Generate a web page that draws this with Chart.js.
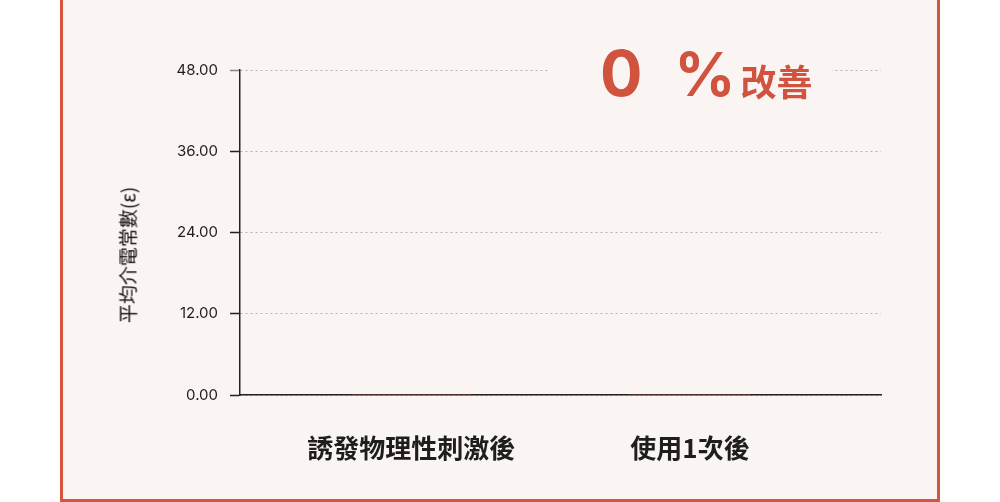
<!DOCTYPE html>
<html lang="zh-Hant">
  <head>
    <meta charset="UTF-8" />
    <title>平均介電常數</title>
    <script src="https://cdn.jsdelivr.net/npm/chart.js"></script>
    <style>
      html,
      body {
        margin: 0;
        padding: 0;
        width: 1000px;
        height: 502px;
        overflow: hidden;
        background: #ffffff;
      }
      .panel {
        position: absolute;
        left: 60px;
        top: -10px;
        width: 874px;
        height: 506px;
        border: 3px solid #d4553f;
        background: #faf4f2;
      }
      .chart-wrap {
        position: absolute;
        left: 0;
        top: 0;
        width: 1000px;
        height: 502px;
      }
      .y-title {
        position: absolute;
        left: 127px;
        top: 255px;
        transform: translate(-50%, -50%) rotate(-90deg);
        white-space: nowrap;
        font-family: "Noto Sans CJK TC", sans-serif;
        font-size: 19px;
        color: #111111;
      }
      .badge {
        position: absolute;
        left: 550px;
        top: 42px;
        width: 282px;
        height: 64px;
        padding-left: 50px;
        box-sizing: border-box;
        background: #faf4f2;
        display: flex;
        align-items: baseline;
        color: #d0533f;
        font-weight: 700;
      }
      .badge .num {
        font-family: Inter, sans-serif;
        font-size: 63px;
        line-height: 1;
      }
      .badge .pct {
        font-family: Inter, sans-serif;
        font-size: 60px;
        line-height: 1;
        margin-left: 32px;
      }
      .badge .word {
        font-family: "Noto Sans CJK TC", sans-serif;
        font-size: 36px;
        line-height: 1;
        margin-left: 5px;
      }
    </style>
  </head>
  <body>
    <div class="panel"></div>
    <div class="chart-wrap"><canvas id="chart"></canvas></div>
    <div class="y-title" id="yTitle"></div>
    <div class="badge">
      <span class="num" id="improveNum"></span>
      <span class="pct">%</span>
      <span class="word">改善</span>
    </div>

    <script>
      const categories = ["誘發物理性刺激後", "使用1次後"];
      const dielectricValues = [0, 0];
      const yTicks = [0, 12, 24, 36, 48];
      const yTitle = "平均介電常數(ε)";
      const improvement = 0;

      document.getElementById("yTitle").textContent = yTitle;
      document.getElementById("improveNum").textContent = improvement;

      const ctx = document.getElementById("chart").getContext("2d");

      new Chart(ctx, {
        type: "bar",
        data: {
          datasets: [
            {
              label: yTitle,
              data: dielectricValues.map((v, i) => ({ x: i, y: v })),
              backgroundColor: "#d0533f",
              borderWidth: 0,
              barThickness: 120,
            },
          ],
        },
        options: {
          responsive: true,
          maintainAspectRatio: false,
          animation: false,
          layout: {
            padding: { top: 70, right: 119, left: 0, bottom: 0 },
          },
          plugins: {
            legend: { display: false },
            tooltip: { enabled: false },
          },
          scales: {
            x: {
              type: "linear",
              min: -0.614,
              max: 1.685,
              offset: false,
              afterBuildTicks: (scale) => {
                scale.ticks = categories.map((_, i) => ({ value: i }));
              },
              afterFit: (scale) => {
                scale.height = 107;
              },
              ticks: {
                callback: (value) => categories[value],
                color: "#1e1e1e",
                padding: 38,
                maxRotation: 0,
                autoSkip: false,
                font: {
                  family: "'Noto Sans CJK TC', sans-serif",
                  size: 26,
                  weight: "bold",
                },
              },
              grid: { display: false, drawTicks: false, offset: false },
              border: { display: true, color: "#222222", width: 1.5 },
            },
            y: {
              min: 0,
              max: 48,
              afterBuildTicks: (scale) => {
                scale.ticks = yTicks.map((v) => ({ value: v }));
              },
              afterFit: (scale) => {
                scale.width = 240;
              },
              ticks: {
                callback: (value) => value.toFixed(2),
                color: "#1e1e1e",
                padding: 12,
                font: { family: "Inter, sans-serif", size: 15 },
              },
              grid: {
                color: "#b9b0b0",
                lineWidth: 1,
                tickLength: 10,
                tickWidth: 1.5,
                tickColor: (c) =>
                  c.index === yTicks.length - 1 ? "#888888" : "#222222",
              },
              border: {
                display: true,
                color: "#222222",
                width: 1.5,
                dash: [2, 3],
              },
            },
          },
        },
      });
    </script>
  </body>
</html>
